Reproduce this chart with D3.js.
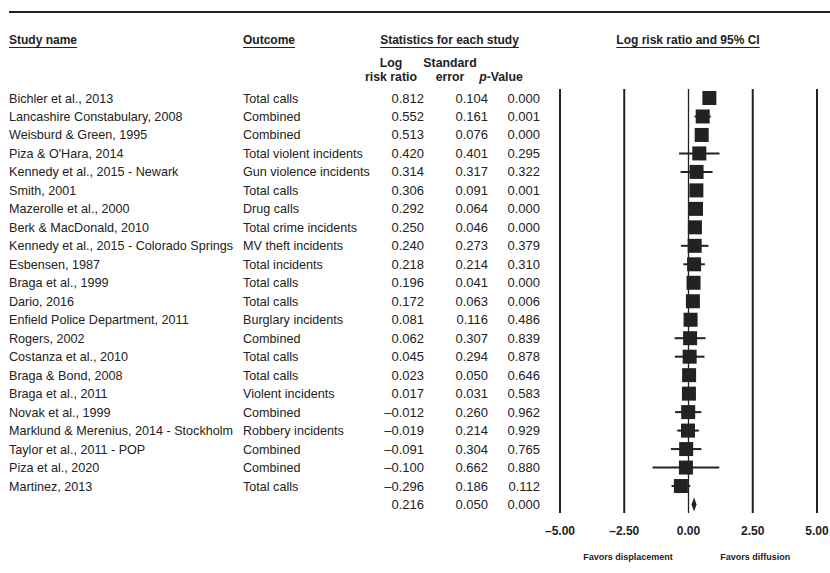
<!DOCTYPE html>
<html>
<head>
<meta charset="utf-8">
<script src="https://cdn.jsdelivr.net/npm/d3@7"></script>
<style>
  body { margin: 0; background: #fff; }
  svg { font-family: "Liberation Sans", Arial, sans-serif; }
</style>
</head>
<body>
<div id="chart"></div>
<script>
// study rows, top to bottom
var studies = [
  "Bichler et al., 2013", "Lancashire Constabulary, 2008", "Weisburd & Green, 1995",
  "Piza & O'Hara, 2014", "Kennedy et al., 2015 - Newark", "Smith, 2001",
  "Mazerolle et al., 2000", "Berk & MacDonald, 2010", "Kennedy et al., 2015 - Colorado Springs",
  "Esbensen, 1987", "Braga et al., 1999", "Dario, 2016",
  "Enfield Police Department, 2011", "Rogers, 2002", "Costanza et al., 2010",
  "Braga & Bond, 2008", "Braga et al., 2011", "Novak et al., 1999",
  "Marklund & Merenius, 2014 - Stockholm", "Taylor et al., 2011 - POP", "Piza et al., 2020",
  "Martinez, 2013"
];
var outcomes = [
  "Total calls", "Combined", "Combined",
  "Total violent incidents", "Gun violence incidents", "Total calls",
  "Drug calls", "Total crime incidents", "MV theft incidents",
  "Total incidents", "Total calls", "Total calls",
  "Burglary incidents", "Combined", "Total calls",
  "Total calls", "Violent incidents", "Combined",
  "Robbery incidents", "Combined", "Combined",
  "Total calls"
];
var logRR = [0.812, 0.552, 0.513, 0.420, 0.314, 0.306, 0.292, 0.250, 0.240, 0.218, 0.196, 0.172,
             0.081, 0.062, 0.045, 0.023, 0.017, -0.012, -0.019, -0.091, -0.100, -0.296];
var stdErr = [0.104, 0.161, 0.076, 0.401, 0.317, 0.091, 0.064, 0.046, 0.273, 0.214, 0.041, 0.063,
              0.116, 0.307, 0.294, 0.050, 0.031, 0.260, 0.214, 0.304, 0.662, 0.186];
var pValue = [0.000, 0.001, 0.000, 0.295, 0.322, 0.001, 0.000, 0.000, 0.379, 0.310, 0.000, 0.006,
              0.486, 0.839, 0.878, 0.646, 0.583, 0.962, 0.929, 0.765, 0.880, 0.112];
var summary = { lrr: 0.216, se: 0.050, p: 0.000 };
var ticks = [-5, -2.5, 0, 2.5, 5];

var width = 830, height = 573;
var ink = "#222";

function fmt(v) {
  var s = d3.format(".3f")(Math.abs(v));
  return (v < 0 ? "\u2013" : "") + s;
}
function fmt2(d) { return (d < 0 ? "\u2013" : "") + d3.format(".2f")(Math.abs(d)); }

var svg = d3.select("#chart").append("svg")
  .attr("width", width).attr("height", height);

var x = d3.scaleLinear().domain([-5, 5]).range([560, 817]);
var y = d3.scaleLinear().domain([0, studies.length]).range([98, 504.5]);

// top rule
svg.append("line").attr("x1", 9).attr("x2", 830).attr("y1", 12).attr("y2", 12)
  .attr("stroke", ink).attr("stroke-width", 2);

// headers with underline
function header(txt, xp, anchor) {
  var t = svg.append("text").attr("x", xp).attr("y", 44)
    .attr("text-anchor", anchor).attr("font-size", 12).attr("font-weight", "bold")
    .attr("fill", ink).text(txt);
  var w = t.node().getComputedTextLength();
  var x0 = anchor == "middle" ? xp - w / 2 : xp;
  svg.append("line").attr("x1", x0).attr("x2", x0 + w).attr("y1", 47.5).attr("y2", 47.5)
    .attr("stroke", ink).attr("stroke-width", 1);
}
header("Study name", 9, "start");
header("Outcome", 243, "start");
header("Statistics for each study", 449.5, "middle");
header("Log risk ratio and 95% CI", 688, "middle");

var sub = svg.append("g").attr("font-size", 12.3).attr("font-weight", "bold").attr("fill", ink)
  .attr("text-anchor", "middle");
sub.append("text").attr("x", 391).attr("y", 67).text("Log");
sub.append("text").attr("x", 391).attr("y", 81).text("risk ratio");
sub.append("text").attr("x", 450).attr("y", 67).text("Standard");
sub.append("text").attr("x", 450).attr("y", 81).text("error");
var pv = sub.append("text").attr("x", 501).attr("y", 81);
pv.append("tspan").attr("font-style", "italic").text("p");
pv.append("tspan").text("-Value");

// table rows
var rows = svg.append("g").attr("font-size", 12.6).attr("fill", ink);
rows.selectAll(".name").data(studies).enter().append("text")
  .attr("x", 9).attr("y", function(d, i) { return y(i) + 4.5; }).text(function(d) { return d; });
rows.selectAll(".outc").data(outcomes).enter().append("text")
  .attr("x", 243).attr("y", function(d, i) { return y(i) + 4.5; }).text(function(d) { return d; });

var cols = [
  { xp: 424, vals: logRR.concat([summary.lrr]) },
  { xp: 488, vals: stdErr.concat([summary.se]) },
  { xp: 540, vals: pValue.concat([summary.p]) }
];
cols.forEach(function(c) {
  rows.append("g").selectAll("text").data(c.vals).enter().append("text")
    .attr("x", c.xp).attr("y", function(d, i) { return y(i) + 4.5; })
    .attr("text-anchor", "end").attr("font-size", 13).text(fmt);
});

// reference lines
svg.append("g").selectAll("line").data(ticks).enter().append("line")
  .attr("x1", function(d) { return x(d); }).attr("x2", function(d) { return x(d); })
  .attr("y1", 89).attr("y2", 513)
  .attr("stroke", ink).attr("stroke-width", function(d) { return d == 0 ? 1.3 : 2; });

// CIs and squares
var plot = svg.append("g");
var idx = d3.range(studies.length);
plot.selectAll(".ci").data(idx).enter().append("line")
  .attr("x1", function(i) { return x(logRR[i] - 1.96 * stdErr[i]); })
  .attr("x2", function(i) { return x(logRR[i] + 1.96 * stdErr[i]); })
  .attr("y1", function(i) { return y(i); }).attr("y2", function(i) { return y(i); })
  .attr("stroke", ink).attr("stroke-width", 2);
plot.selectAll(".sq").data(idx).enter().append("rect")
  .attr("x", function(i) { return x(logRR[i]) - 7; })
  .attr("y", function(i) { return y(i) - 7; })
  .attr("width", 14).attr("height", 14).attr("fill", ink);

// summary diamond
var sy = y(studies.length);
var lo = x(summary.lrr - 1.96 * summary.se), hi = x(summary.lrr + 1.96 * summary.se), mid = x(summary.lrr);
plot.append("path")
  .attr("d", "M" + lo + "," + sy + "L" + mid + "," + (sy - 7) + "L" + hi + "," + sy + "L" + mid + "," + (sy + 7) + "Z")
  .attr("fill", ink);

// tick labels
svg.append("g").attr("font-size", 12).attr("font-weight", "bold").attr("fill", ink)
  .selectAll("text").data(ticks).enter().append("text")
  .attr("x", function(d) { return x(d); }).attr("y", 535).attr("text-anchor", "middle")
  .text(fmt2);

var fav = svg.append("g").attr("font-size", 9).attr("font-weight", "bold").attr("fill", ink)
  .attr("text-anchor", "middle");
fav.append("text").attr("x", x(-2.35)).attr("y", 560).text("Favors displacement");
fav.append("text").attr("x", x(2.6)).attr("y", 560).text("Favors diffusion");
</script>
</body>
</html>
